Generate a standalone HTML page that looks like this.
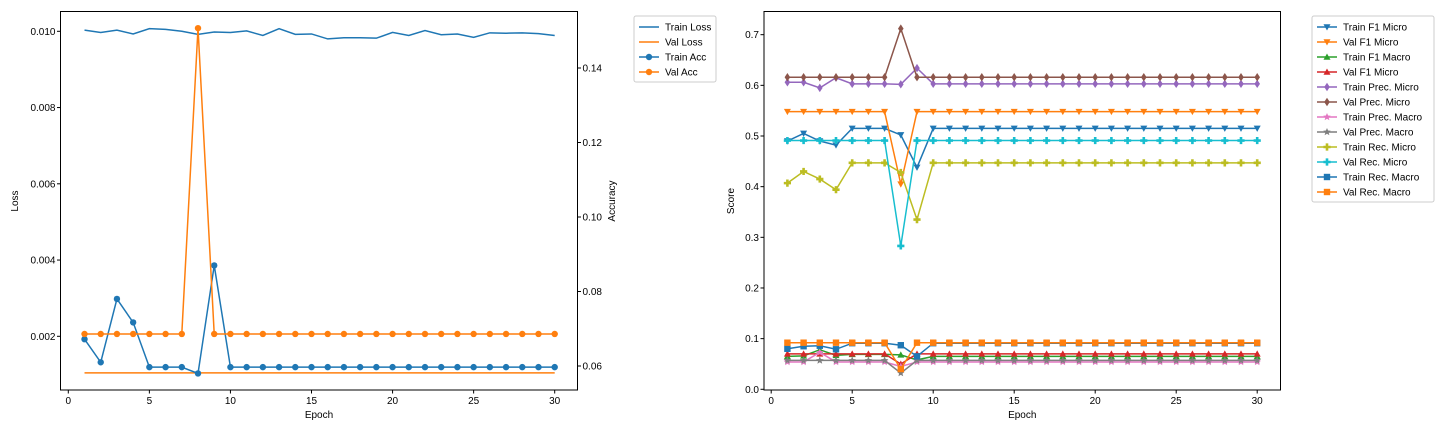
<!DOCTYPE html>
<html><head><meta charset="utf-8"><style>
body{margin:0;background:#fff;width:1440px;height:432px;overflow:hidden}
svg{font-family:"Liberation Sans",sans-serif;font-size:10px}
</style></head><body>
<svg id="svg" width="1440" height="432"></svg>
<script>
const epochs=[1,2,3,4,5,6,7,8,9,10,11,12,13,14,15,16,17,18,19,20,21,22,23,24,25,26,27,28,29,30];
const trainLoss=[0.01003,0.00997,0.01003,0.00993,0.01007,0.01005,0.01,0.00992,0.00998,0.00997,0.01001,0.00989,0.01007,0.00992,0.00993,0.0098,0.00983,0.00983,0.00982,0.00997,0.00989,0.01002,0.00991,0.00993,0.00984,0.00996,0.00995,0.00996,0.00994,0.00989];
const valLoss=epochs.map(()=>0.00104);
const trainAcc=[0.0672,0.061,0.078,0.0717,0.0597,0.0597,0.0597,0.058,0.087,0.0597,0.0597,0.0597,0.0597,0.0597,0.0597,0.0597,0.0597,0.0597,0.0597,0.0597,0.0597,0.0597,0.0597,0.0597,0.0597,0.0597,0.0597,0.0597,0.0597,0.0597];
const valAcc=[0.0686,0.0686,0.0686,0.0686,0.0686,0.0686,0.0686,0.1507,0.0686,0.0686,0.0686,0.0686,0.0686,0.0686,0.0686,0.0686,0.0686,0.0686,0.0686,0.0686,0.0686,0.0686,0.0686,0.0686,0.0686,0.0686,0.0686,0.0686,0.0686,0.0686];
function fill(first,rest){const a=first.slice();while(a.length<30)a.push(rest);return a;}
const trainF1Micro=fill([0.49,0.505,0.49,0.482,0.515,0.515,0.515,0.502,0.438],0.515);
const valF1Micro=fill([0.548,0.548,0.548,0.548,0.548,0.548,0.548,0.405,0.548],0.548);
const trainF1Macro=fill([0.065,0.066,0.078,0.067,0.069,0.069,0.069,0.068,0.058],0.065);
const valF1MicroB=fill([0.07,0.07,0.07,0.07,0.07,0.07,0.07,0.05,0.07],0.07);
const trainPrecMicro=fill([0.606,0.606,0.595,0.615,0.603,0.603,0.603,0.602,0.634],0.603);
const valPrecMicro=fill([0.616,0.616,0.616,0.616,0.616,0.616,0.616,0.712,0.616],0.616);
const trainPrecMacro=fill([0.054,0.054,0.073,0.054,0.054,0.054,0.054,0.045,0.054],0.054);
const valPrecMacro=fill([0.057,0.057,0.057,0.057,0.057,0.057,0.057,0.032,0.057],0.057);
const trainRecMicro=fill([0.407,0.43,0.415,0.394,0.447,0.447,0.447,0.428,0.335],0.447);
const valRecMicro=fill([0.491,0.491,0.491,0.491,0.491,0.491,0.491,0.283,0.491],0.491);
const trainRecMacro=fill([0.08,0.085,0.086,0.079,0.091,0.091,0.091,0.087,0.065],0.091);
const valRecMacro=fill([0.092,0.092,0.092,0.092,0.092,0.092,0.092,0.04,0.092],0.092);
const xTicks=[0,5,10,15,20,25,30];
const lossTicks=[0.002,0.004,0.006,0.008,0.010];
const accTicks=[0.06,0.08,0.10,0.12,0.14];
const scoreTicks=[0.0,0.1,0.2,0.3,0.4,0.5,0.6,0.7];

const NS="http://www.w3.org/2000/svg",svg=document.getElementById('svg');
function el(t,a,p){const e=document.createElementNS(NS,t);for(const k in a)e.setAttribute(k,a[k]);(p||svg).appendChild(e);return e;}
const C={blue:'#1f77b4',orange:'#ff7f0e',green:'#2ca02c',red:'#d62728',purple:'#9467bd',brown:'#8c564b',pink:'#e377c2',gray:'#7f7f7f',olive:'#bcbd22',cyan:'#17becf'};
function marker(g,type,x,y,c){
  const s=3.5;let e;
  if(type==='o')e=el('circle',{cx:x,cy:y,r:3.2,fill:c},g);
  else if(type==='v')e=el('polygon',{points:`${x-s},${y-s*0.8} ${x+s},${y-s*0.8} ${x},${y+s}`,fill:c},g);
  else if(type==='^')e=el('polygon',{points:`${x-s},${y+s*0.8} ${x+s},${y+s*0.8} ${x},${y-s}`,fill:c},g);
  else if(type==='d')e=el('polygon',{points:`${x},${y-s*1.2} ${x+s*0.8},${y} ${x},${y+s*1.2} ${x-s*0.8},${y}`,fill:c},g);
  else if(type==='s')e=el('rect',{x:x-3.2,y:y-3.2,width:6.4,height:6.4,fill:c},g);
  else if(type==='*')e=el('polygon',{points:star(x,y),fill:c},g);
  else if(type==='P')e=el('path',{d:`M${x-1.3} ${y-3.6}h2.6v2.3h2.3v2.6h-2.3v2.3h-2.6v-2.3h-2.3v-2.6h2.3z`,fill:c},g);
  return e;
}
function star(x,y){let p=[];for(let i=0;i<10;i++){const r=i%2?1.8:4,a=-Math.PI/2+i*Math.PI/5;p.push((x+r*Math.cos(a)).toFixed(1)+','+(y+r*Math.sin(a)).toFixed(1));}return p.join(' ');}
function series(name,xs,ys,sx,sy,c,m){
  const g=el('g',{});
  
  
  el('polyline',{points:xs.map((x,i)=>sx(x)+','+sy(ys[i])).join(' '),fill:'none',stroke:c,'stroke-width':1.5},g);
  if(m)xs.forEach((x,i)=>marker(g,m,sx(x),sy(ys[i]),c));
}
function text(t,x,y,a,extra){const e=el('text',Object.assign({x:x,y:y,'text-anchor':a||'middle',fill:'#000'},extra||{}));e.textContent=t;return e;}
function frame(x0,y0,x1,y1,name){const r=el('rect',{x:x0,y:y0,width:x1-x0,height:y1-y0,fill:'none',stroke:'#000','stroke-width':1});}
function xaxis(sx,yb){xTicks.forEach(t=>{el('line',{x1:sx(t),x2:sx(t),y1:yb,y2:yb+3.5,stroke:'#000'});text(String(t),sx(t),yb+14);});}
function legend(x,y,w,items){
  const g=el('g',{});
  el('rect',{x:x,y:y,width:w,height:items.length*15+6,fill:'#fff',stroke:'#ccc',rx:2},g);
  items.forEach((it,i)=>{const yy=y+11+i*15;
    el('line',{x1:x+5,x2:x+25,y1:yy,y2:yy,stroke:it[1],'stroke-width':1.5},g);
    if(it[2])marker(g,it[2],x+15,yy,it[1]);
    const t=el('text',{x:x+31,y:yy+3.5,fill:'#000'},g);t.textContent=it[0];});
}
// Left chart
const L={x0:60.5,x1:577.5,y0:11.5,y1:390};
const lx=e=>68.3+e*(554.7-68.3)/30;
const ly=v=>336.3-(v-0.002)*38125;
const ay=v=>366-(v-0.06)*3725;
series('train-loss-line',epochs,trainLoss,lx,ly,C.blue);
series('val-loss-line',epochs,valLoss,lx,ly,C.orange);
series('train-acc-line',epochs,trainAcc,lx,ay,C.blue,'o');
series('val-acc-line',epochs,valAcc,lx,ay,C.orange,'o');
frame(L.x0,L.y0,L.x1,L.y1,'loss-plot-frame');
xaxis(lx,L.y1);
lossTicks.forEach(t=>{el('line',{x1:L.x0-3.5,x2:L.x0,y1:ly(t),y2:ly(t),stroke:'#000'});text(t.toFixed(3),L.x0-5,ly(t)+3.5,'end');});
accTicks.forEach(t=>{el('line',{x1:L.x1,x2:L.x1+3.5,y1:ay(t),y2:ay(t),stroke:'#000'});text(t.toFixed(2),L.x1+5,ay(t)+3.5,'start');});
text('Epoch',(L.x0+L.x1)/2,418);
text('Loss',18,201,'middle',{transform:'rotate(-90 18 201)'});
text('Accuracy',615,201,'middle',{transform:'rotate(-90 615 201)'});
legend(634,16,82,[['Train Loss',C.blue],['Val Loss',C.orange],['Train Acc',C.blue,'o'],['Val Acc',C.orange,'o']]);
// Right chart
const R={x0:764,x1:1280.5,y0:11.5,y1:390};
const rx=e=>771.2+e*(1257.2-771.2)/30;
const ry=v=>389.3-v*506.6;
const rs=[['Train F1 Micro',trainF1Micro,C.blue,'v'],['Val F1 Micro',valF1Micro,C.orange,'v'],['Train F1 Macro',trainF1Macro,C.green,'^'],['Val F1 Micro',valF1MicroB,C.red,'^'],['Train Prec. Micro',trainPrecMicro,C.purple,'d'],['Val Prec. Micro',valPrecMicro,C.brown,'d'],['Train Prec. Macro',trainPrecMacro,C.pink,'*'],['Val Prec. Macro',valPrecMacro,C.gray,'*'],['Train Rec. Micro',trainRecMicro,C.olive,'P'],['Val Rec. Micro',valRecMicro,C.cyan,'P'],['Train Rec. Macro',trainRecMacro,C.blue,'s'],['Val Rec. Macro',valRecMacro,C.orange,'s']];
rs.forEach((s,i)=>series(s[0].toLowerCase().replace(/\. /g,'-').replace(/ /g,'-')+'-line-'+i,epochs,s[1],rx,ry,s[2],s[3]));
frame(R.x0,R.y0,R.x1,R.y1,'score-plot-frame');
xaxis(rx,R.y1);
scoreTicks.forEach(t=>{el('line',{x1:R.x0-3.5,x2:R.x0,y1:ry(t),y2:ry(t),stroke:'#000'});text(t.toFixed(1),R.x0-5,ry(t)+3.5,'end');});
text('Epoch',(R.x0+R.x1)/2,418);
text('Score',734,201,'middle',{transform:'rotate(-90 734 201)'});
legend(1312,16,122,rs.map(s=>[s[0],s[2],s[3]]));
</script>
</body></html>
